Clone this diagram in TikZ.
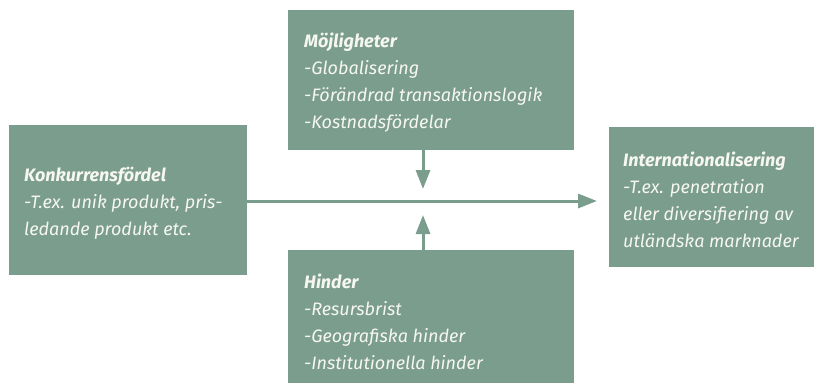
\documentclass[tikz,border=0pt]{standalone}
\usepackage{fontspec}
\setmainfont{Fira Sans}
\usetikzlibrary{arrows.meta}
\definecolor{boxgreen}{HTML}{7B9D8E}
\definecolor{txt}{HTML}{F7F7F2}
\tikzset{
  greenbox/.style={draw=none,fill=boxgreen,inner sep=0pt,anchor=north west},
  boxtext/.style={anchor=north west,inner sep=0pt,align=left,text=txt,
    font=\fontsize{18bp}{26.8bp}\selectfont\itshape},
  conn/.style={draw=boxgreen,line width=3bp,-{Triangle[length=19bp,width=14bp]}}
}
\begin{document}
\begin{tikzpicture}[x=1bp,y=-1bp]
\useasboundingbox (0,0) rectangle (815,385);
\node[greenbox,minimum width=286bp,minimum height=140bp] (top) at (288,10) {};
\node[greenbox,minimum width=238bp,minimum height=150bp] (left) at (9,125) {};
\node[greenbox,minimum width=205bp,minimum height=140bp] (right) at (609,127) {};
\node[greenbox,minimum width=286bp,minimum height=133bp] (bot) at (288,250) {};
\node[boxtext] (toptext) at (304,33) {\textbf{Möjligheter}\\-Globalisering\\-Förändrad transaktionslogik\\-Kostnadsfördelar};
\node[boxtext] (lefttext) at (24,167) {\textbf{Konkurrensfördel}\\-T.ex. unik produkt, pris-\\ledande produkt etc.};
\node[boxtext] (righttext) at (623,152) {\textbf{Internationalisering}\\-T.ex. penetration\\eller diversifiering av\\utländska marknader};
\node[boxtext] (bottext) at (304,274) {\textbf{Hinder}\\-Resursbrist\\-Geografiska hinder\\-Institutionella hinder};
\coordinate (mid) at (423,201);
\draw[conn] (left.east |- mid) -- ([xshift=-12bp]right.west |- mid);
\draw[conn] (top.south -| mid) -- ([yshift=12bp]mid);
\draw[conn] (bot.north -| mid) -- ([yshift=-14bp]mid);
\end{tikzpicture}
\end{document}
